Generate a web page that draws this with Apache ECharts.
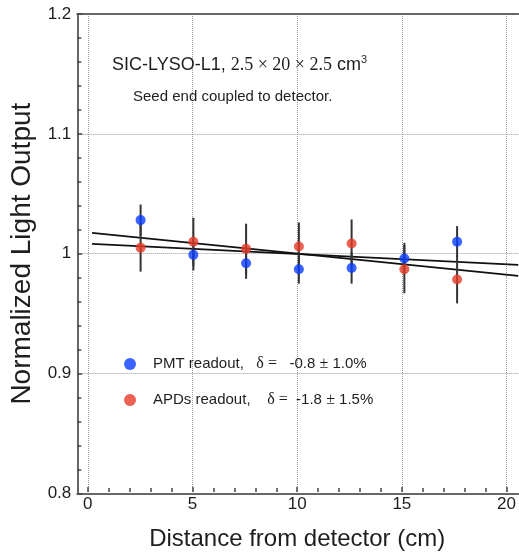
<!DOCTYPE html>
<html>
<head>
<meta charset="utf-8">
<script src="https://cdn.jsdelivr.net/npm/echarts@6/dist/echarts.min.js"></script>
<style>
html,body{margin:0;padding:0;background:#fff;}
#chart{width:519px;height:556px;}
</style>
</head>
<body>
<div id="chart"></div>
<script>
// ---- data ----
const positions = [2.5, 5, 7.5, 10, 12.5, 15, 17.5];
const pmtValues = [1.028, 0.999, 0.992, 0.987, 0.988, 0.996, 1.010];
const pmtErrors = [0.013, 0.013, 0.013, 0.012, 0.013, 0.013, 0.013];
const apdValues = [1.005, 1.010, 1.004, 1.006, 1.0085, 0.987, 0.9785];
const apdErrors = [0.020, 0.020, 0.021, 0.020, 0.020, 0.020, 0.020];
const pmtFit = [[0.2, 1.0082], [20.4, 0.9907]];
const apdFit = [[0.2, 1.0173], [20.4, 0.9815]];
const seriesNames = ['PMT readout', 'APDs readout'];
const legendDeltas = ['-0.8', '-1.8'];
const legendErrors = ['1.0%', '1.5%'];
const xTicks = [0, 5, 10, 15, 20];
const yTicks = [0.8, 0.9, 1.0, 1.1, 1.2];

const SANS = '"Liberation Sans", Arial, sans-serif';
const SERIF = '"Liberation Serif", "Times New Roman", serif';
const BLUE = '#0a3cff';
const RED = '#e63b27';
const INK = '#1e1e1e';
const FRAME = '#666';

const pxPerUnit = 21.1;
const frameLeft = 77.3;
const gridTop = 14;
const gridHeight = 479.3;
const frameMin = -0.5;
const frameMax = 20.4;

function pairs(xs, ys) { return xs.map((x, i) => [x, ys[i]]); }
function errData(xs, ys, es) { return xs.map((x, i) => [x, ys[i] - es[i], ys[i] + es[i]]); }

function errRender(params, api) {
  const x = api.value(0);
  const lo = api.coord([x, api.value(1)]);
  const hi = api.coord([x, api.value(2)]);
  return {
    type: 'line',
    shape: { x1: lo[0], y1: lo[1], x2: hi[0], y2: hi[1] },
    style: { stroke: '#333', lineWidth: 2 }
  };
}

const chart = echarts.init(document.getElementById('chart'), null, { renderer: 'canvas' });

const option = {
  backgroundColor: '#fff',
  animation: false,
  textStyle: { fontFamily: SANS },
  title: [
    {
      text: 'SIC-LYSO-L1, {s|2.5 × 20 × 2.5} cm{sup|3}',
      left: 107, top: 49,
      textStyle: {
        fontFamily: SANS, fontSize: 18, fontWeight: 'normal', color: INK,
        rich: {
          s: { fontFamily: SERIF, fontSize: 18, color: INK },
          sup: { fontFamily: SANS, fontSize: 11, color: INK, padding: [0, 0, 11, 0] }
        }
      }
    },
    {
      text: 'Seed end coupled to detector.',
      left: 128, top: 84,
      textStyle: { fontFamily: SANS, fontSize: 15, fontWeight: 'normal', color: INK }
    }
  ],
  legend: {
    data: seriesNames,
    orient: 'vertical',
    left: 119, top: 351,
    icon: 'circle',
    itemWidth: 12, itemHeight: 12,
    itemGap: 20,
    textStyle: {
      fontFamily: SANS, fontSize: 15, color: INK, padding: [0, 0, 0, 12],
      rich: { s: { fontFamily: SERIF, fontSize: 16, color: INK } }
    },
    formatter: function (name) {
      const i = seriesNames.indexOf(name);
      const pad = i === 0 ? ',   ' : ',    ';
      const mid = i === 0 ? '{s|δ =}   ' : '{s|δ =}  ';
      return name + pad + mid + legendDeltas[i] + ' {s|±} ' + legendErrors[i];
    }
  },
  grid: [
    {
      left: frameLeft, top: gridTop, width: pxPerUnit * (frameMax - frameMin), height: gridHeight,
      show: false
    },
    {
      left: frameLeft + pxPerUnit * (0 - frameMin), top: gridTop, width: pxPerUnit * 20, height: gridHeight,
      show: false
    }
  ],
  xAxis: [
    {
      gridIndex: 0, type: 'value', min: frameMin, max: frameMax, position: 'bottom',
      axisLine: { show: true, onZero: false, lineStyle: { color: FRAME, width: 2 } },
      axisTick: { show: false }, axisLabel: { show: false }, splitLine: { show: false }
    },
    {
      gridIndex: 1, type: 'value', min: xTicks[0], max: xTicks[xTicks.length - 1], interval: 5,
      name: 'Distance from detector (cm)',
      nameLocation: 'middle', nameGap: 35,
      nameTextStyle: { fontFamily: SANS, fontSize: 24, color: INK },
      axisLine: { show: false },
      axisTick: { show: true, inside: true, length: 5, lineStyle: { color: '#444', width: 1.5 } },
      minorTick: { show: true, splitNumber: 5, length: 4, lineStyle: { color: '#444', width: 1.5 } },
      axisLabel: { fontFamily: SANS, fontSize: 17, color: INK, margin: 4 },
      splitLine: { show: true, lineStyle: { type: 'dotted', color: '#999', width: 1 } }
    },
    {
      gridIndex: 0, type: 'value', min: frameMin, max: frameMax, position: 'top',
      axisLine: { show: true, onZero: false, lineStyle: { color: FRAME, width: 2 } },
      axisTick: { show: false }, axisLabel: { show: false }, splitLine: { show: false }
    }
  ],
  yAxis: [
    {
      gridIndex: 0, type: 'value', min: yTicks[0], max: yTicks[yTicks.length - 1], interval: 0.1,
      name: 'Normalized Light Output',
      nameLocation: 'middle', nameGap: 37,
      nameTextStyle: { fontFamily: SANS, fontSize: 28, color: INK },
      axisLine: { show: true, onZero: false, lineStyle: { color: FRAME, width: 2 } },
      axisTick: { show: true, inside: true, length: 5, lineStyle: { color: '#444', width: 1.5 } },
      minorTick: { show: true, splitNumber: 5, length: 4, lineStyle: { color: '#444', width: 1.5 } },
      axisLabel: { fontFamily: SANS, fontSize: 17, color: INK, margin: 6 },
      splitLine: { show: true, lineStyle: { type: 'dotted', color: '#999', width: 1 } }
    },
    {
      gridIndex: 1, type: 'value', min: yTicks[0], max: yTicks[yTicks.length - 1], show: false
    }
  ],
  series: [
    {
      name: 'fitPMT', type: 'line', xAxisIndex: 0, yAxisIndex: 0,
      data: pmtFit, showSymbol: false, symbol: 'none', clip: true,
      lineStyle: { color: '#111', width: 1.7 }, z: 3
    },
    {
      name: 'fitAPD', type: 'line', xAxisIndex: 0, yAxisIndex: 0,
      data: apdFit, showSymbol: false, symbol: 'none', clip: true,
      lineStyle: { color: '#111', width: 1.7 }, z: 3
    },
    {
      name: 'errPMT', type: 'custom', xAxisIndex: 0, yAxisIndex: 0,
      data: errData(positions, pmtValues, pmtErrors), renderItem: errRender, z: 4
    },
    {
      name: 'errAPD', type: 'custom', xAxisIndex: 0, yAxisIndex: 0,
      data: errData(positions, apdValues, apdErrors), renderItem: errRender, z: 4
    },
    {
      name: seriesNames[0], type: 'scatter', xAxisIndex: 0, yAxisIndex: 0,
      data: pairs(positions, pmtValues), symbol: 'circle', symbolSize: 10,
      itemStyle: { color: BLUE }, z: 5
    },
    {
      name: seriesNames[1], type: 'scatter', xAxisIndex: 0, yAxisIndex: 0,
      data: pairs(positions, apdValues), symbol: 'circle', symbolSize: 10,
      itemStyle: { color: RED }, z: 5
    }
  ]
};
chart.setOption(option);
</script>
</body>
</html>
